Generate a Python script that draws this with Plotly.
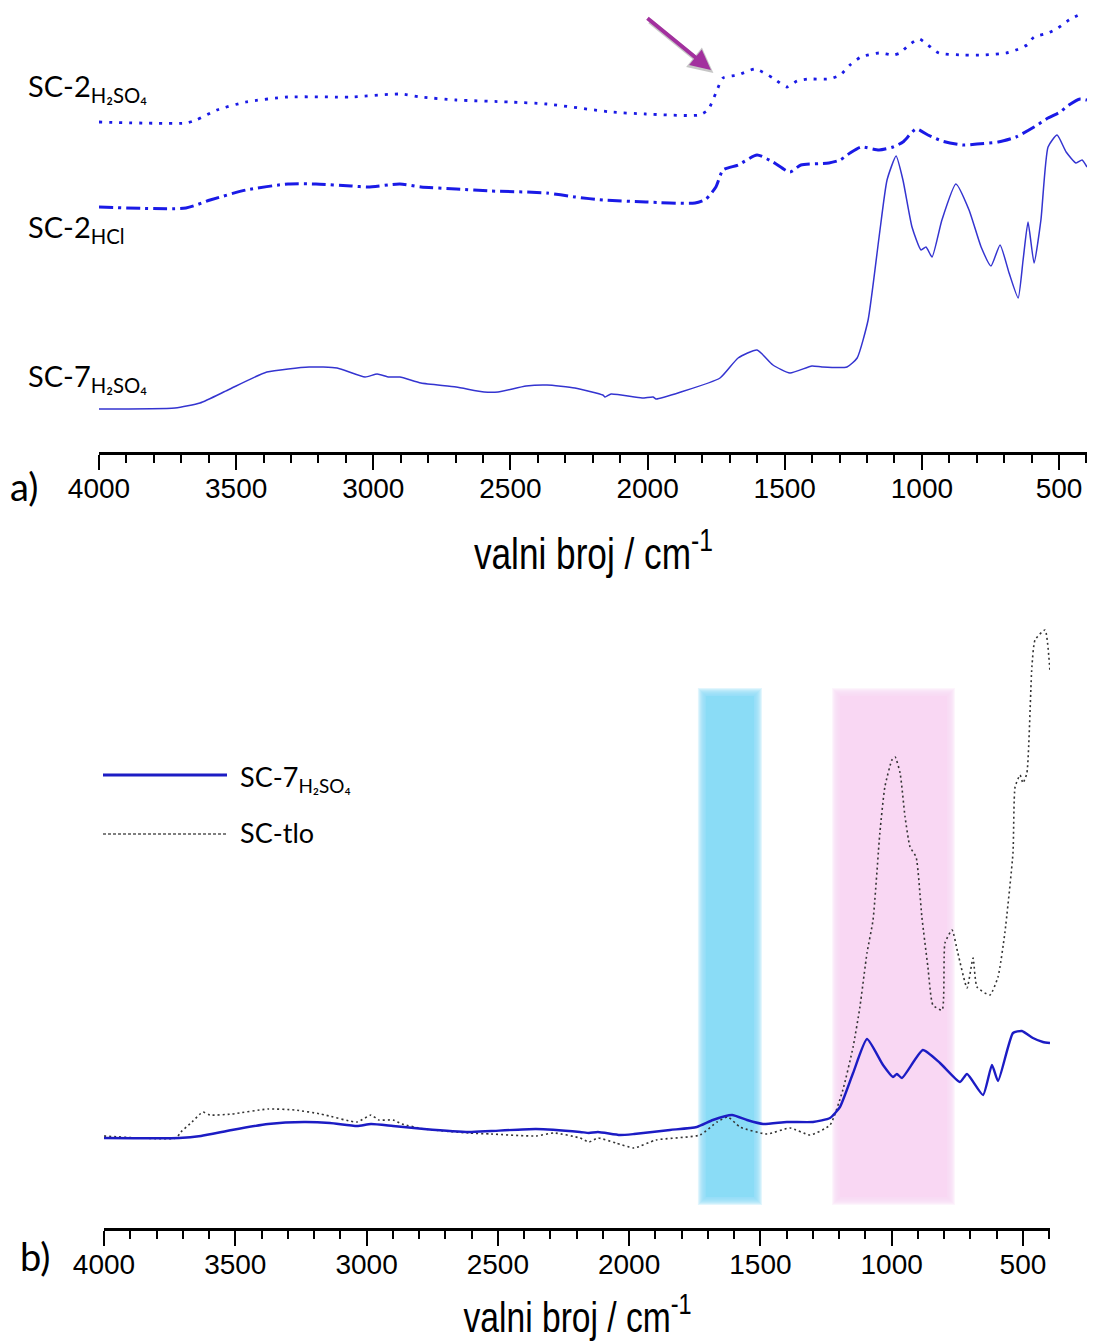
import plotly.graph_objects as go

# ---------------- data ----------------
# panel a) - SC-2 (H2SO4), dotted
WN_SC2_H2SO4 = [4000, 3683, 3646, 3570, 3464, 3311, 3081, 2903, 2826, 2698, 2505, 2367, 2133, 2006,
                1813, 1780, 1751, 1725, 1670, 1608, 1543, 1492, 1455, 1415, 1339, 1298, 1262, 1222,
                1156, 1105, 1080, 1047, 1010, 978, 938, 850, 773, 693, 657, 617, 591, 540, 504, 464, 420]
A_SC2_H2SO4 = [3.30, 3.29, 3.32, 3.42, 3.50, 3.55, 3.55, 3.58, 3.55, 3.52, 3.50, 3.48, 3.40, 3.38,
               3.37, 3.42, 3.59, 3.74, 3.77, 3.83, 3.74, 3.65, 3.71, 3.73, 3.73, 3.77, 3.87, 3.95,
               3.99, 3.97, 3.99, 4.07, 4.13, 4.07, 3.99, 3.97, 3.97, 3.99, 4.02, 4.07, 4.15, 4.19, 4.24, 4.32, 4.38]

# panel a) - SC-2 (HCl), dash-dot
WN_SC2_HCL = [4000, 3683, 3595, 3464, 3311, 3209, 3081, 3019, 2903, 2826, 2698, 2571, 2367, 2265,
              2163, 2006, 1827, 1787, 1751, 1725, 1670, 1601, 1543, 1481, 1441, 1339, 1298, 1262,
              1222, 1156, 1105, 1069, 1021, 978, 927, 850, 799, 722, 657, 591, 540, 496, 464, 423, 398]
A_SC2_HCL = [2.45, 2.44, 2.52, 2.62, 2.68, 2.68, 2.66, 2.65, 2.68, 2.65, 2.63, 2.61, 2.59, 2.55,
             2.52, 2.50, 2.49, 2.53, 2.65, 2.82, 2.87, 2.97, 2.90, 2.80, 2.87, 2.89, 2.92, 2.99,
             3.05, 3.02, 3.05, 3.10, 3.23, 3.17, 3.11, 3.07, 3.08, 3.10, 3.15, 3.25, 3.34, 3.40, 3.47, 3.53, 3.52]

# panel a) - SC-7 (H2SO4), solid
WN_SC7_A = [4000, 3723, 3632, 3530, 3388, 3234, 3132, 3030, 2986, 2943, 2903, 2826, 2698, 2596, 2545,
            2443, 2367, 2265, 2163, 2155, 2133, 2020, 1980, 1969, 1878, 1736, 1670, 1601, 1543, 1481,
            1401, 1364, 1273, 1236, 1196, 1156, 1127, 1094, 1069, 1036, 1003, 985, 963, 927, 876, 828,
            784, 748, 715, 682, 649, 631, 613, 591, 566, 540, 507, 474, 438, 416, 398]
A_SC7_A = [0.43, 0.44, 0.49, 0.62, 0.80, 0.85, 0.84, 0.75, 0.78, 0.75, 0.75, 0.69, 0.65, 0.60, 0.60,
           0.66, 0.67, 0.64, 0.57, 0.55, 0.58, 0.54, 0.55, 0.53, 0.60, 0.74, 0.94, 1.02, 0.87, 0.79,
           0.86, 0.85, 0.85, 0.94, 1.32, 2.15, 2.72, 2.96, 2.72, 2.25, 2.02, 2.05, 1.95, 2.32, 2.68, 2.42,
           2.05, 1.86, 2.07, 1.79, 1.54, 1.92, 2.30, 1.89, 2.32, 3.05, 3.17, 3.00, 2.89, 2.92, 2.85]

# panel b) - SC-7 (H2SO4), solid
WN_SC7_B = [4000, 3714, 3631, 3513, 3375, 3238, 3139, 3036, 2983, 2899, 2781, 2610, 2526, 2355, 2187,
            2153, 2119, 2035, 1981, 1844, 1742, 1681, 1608, 1551, 1490, 1399, 1300, 1235, 1197, 1147,
            1094, 1033, 995, 980, 961, 881, 816, 740, 713, 652, 618, 595, 538, 504, 462, 424, 397]
A_SC7_B = [0.90, 0.90, 0.92, 0.98, 1.04, 1.06, 1.05, 1.02, 1.04, 1.02, 0.99, 0.96, 0.97, 0.99, 0.96,
           0.95, 0.96, 0.93, 0.94, 0.98, 1.01, 1.08, 1.13, 1.08, 1.04, 1.06, 1.06, 1.10, 1.21, 1.55,
           1.89, 1.63, 1.51, 1.54, 1.50, 1.78, 1.65, 1.46, 1.54, 1.33, 1.63, 1.47, 1.95, 1.97, 1.90, 1.86, 1.85]

# panel b) - SC-tlo, dotted
WN_TLO = [4000, 3726, 3707, 3665, 3623, 3596, 3513, 3375, 3273, 3174, 3036, 2983, 2953, 2899, 2865,
          2781, 2610, 2526, 2355, 2286, 2187, 2153, 2119, 2050, 1981, 1898, 1730, 1665, 1624, 1578,
          1475, 1387, 1311, 1235, 1186, 1147, 1121, 1094, 1071, 1045, 1026, 999, 987, 968, 949, 930,
          907, 885, 862, 843, 808, 797, 770, 748, 713, 690, 675, 626, 595, 569, 538, 530, 511, 500,
          485, 466, 454, 416, 397]
A_TLO = [0.92, 0.90, 0.96, 1.06, 1.16, 1.13, 1.14, 1.19, 1.18, 1.14, 1.06, 1.13, 1.08, 1.08, 1.04,
         0.99, 0.95, 0.94, 0.92, 0.95, 0.90, 0.86, 0.90, 0.85, 0.80, 0.88, 0.93, 1.06, 1.11, 1.01,
         0.94, 1.00, 0.93, 1.03, 1.38, 1.81, 2.21, 2.75, 3.08, 3.95, 4.41, 4.68, 4.71, 4.55, 4.11, 3.81,
         3.71, 3.11, 2.61, 2.23, 2.18, 2.85, 2.98, 2.75, 2.40, 2.70, 2.41, 2.33, 2.51, 2.95, 3.75, 4.41,
         4.53, 4.45, 4.55, 5.61, 5.88, 5.98, 5.56]

# highlighted regions in panel b) (wavenumber limits)
BAND_CYAN = [1719, 1513]
BAND_PINK = [1208, 778]

TICK_VALS = [4000, 3500, 3000, 2500, 2000, 1500, 1000, 500]
TICK_TEXT = ["4000", "3500", "3000", "2500", "2000", "1500", "1000", "500"]

LABEL_A = ["SC-2<sub>H₂SO₄</sub>", "SC-2<sub>HCl</sub>", "SC-7<sub>H₂SO₄</sub>"]
LEGEND_B = ["SC-7<sub>H₂SO₄</sub>", "SC-tlo"]
AXIS_TITLE = "valni broj / cm<sup>-1</sup>"

# ---------------- figure ----------------
W, H = 1093, 1342
def fx(p):
    return p / W
def fy(p):
    return 1 - p / H

BLUE = "#1a1ae6"
fig = go.Figure()

fig.add_trace(go.Scatter(x=WN_SC2_H2SO4, y=A_SC2_H2SO4, mode="lines", xaxis="x", yaxis="y",
                         line=dict(color=BLUE, width=2.8, dash="3px,7px", shape="spline", smoothing=0.6)))
fig.add_trace(go.Scatter(x=WN_SC2_HCL, y=A_SC2_HCL, mode="lines", xaxis="x", yaxis="y",
                         line=dict(color=BLUE, width=3, dash="14px,5px,3px,5px", shape="spline", smoothing=0.6)))
fig.add_trace(go.Scatter(x=WN_SC7_A, y=A_SC7_A, mode="lines", xaxis="x", yaxis="y",
                         line=dict(color="#3434d0", width=1.5, shape="spline", smoothing=0.5)))

fig.add_trace(go.Scatter(x=WN_TLO, y=A_TLO, mode="lines", xaxis="x2", yaxis="y2",
                         line=dict(color="#333333", width=1.6, dash="2px,3px", shape="spline", smoothing=0.5)))
fig.add_trace(go.Scatter(x=WN_SC7_B, y=A_SC7_B, mode="lines", xaxis="x2", yaxis="y2",
                         line=dict(color="#1c1cc4", width=2.4, shape="spline", smoothing=0.5)))

shapes = []
PX_WN = 3.8085   # wavenumber units per pixel in panel b
PX_A = 0.01      # absorbance units per pixel in panel b
def band(lims, color):
    hi, lo = lims
    y0, y1 = 0.28, 5.35
    for e in range(-3, 6):
        shapes.append(dict(type="rect", xref="x2", yref="y2", x0=hi + e * PX_WN, x1=lo - e * PX_WN,
                           y0=y0 - e * PX_A, y1=y1 + e * PX_A, fillcolor=color, opacity=0.25,
                           line=dict(width=0), layer="below"))
    e = -3
    shapes.append(dict(type="rect", xref="x2", yref="y2", x0=hi + e * PX_WN, x1=lo - e * PX_WN,
                       y0=y0 - e * PX_A, y1=y1 + e * PX_A, fillcolor=color, opacity=1,
                       line=dict(width=0), layer="below"))
band(BAND_CYAN, "#8adcf6")
band(BAND_PINK, "#f9d7f3")

# legend samples (panel b)
shapes.append(dict(type="line", xref="paper", yref="paper", x0=fx(103), x1=fx(227), y0=fy(775), y1=fy(775),
                   line=dict(color="#1c1cc4", width=3)))
shapes.append(dict(type="line", xref="paper", yref="paper", x0=fx(103), x1=fx(227), y0=fy(834), y1=fy(834),
                   line=dict(color="#555555", width=1.3, dash="3px,2px")))

LABEL_FONT = "Lato, Open Sans, Noto Sans, sans-serif"
TITLE_FONT = "Liberation Sans, Arial, sans-serif"
annotations = []
for txt, yp in zip(LABEL_A, [88, 228, 377]):
    annotations.append(dict(text=txt, xref="paper", yref="paper", x=fx(26), y=fy(yp), xanchor="left",
                            yanchor="middle", showarrow=False, font=dict(family=LABEL_FONT, size=29, color="black")))
for txt, yp in zip(LEGEND_B, [778, 832]):
    annotations.append(dict(text=txt, xref="paper", yref="paper", x=fx(238), y=fy(yp), xanchor="left",
                            yanchor="middle", showarrow=False, font=dict(family=LABEL_FONT, size=27, color="black")))
annotations.append(dict(text="a)", xref="paper", yref="paper", x=fx(8), y=fy(486), xanchor="left", yanchor="middle",
                        showarrow=False, font=dict(family=LABEL_FONT, size=38, color="black")))
annotations.append(dict(text="b)", xref="paper", yref="paper", x=fx(18), y=fy(1256), xanchor="left", yanchor="middle",
                        showarrow=False, font=dict(family=LABEL_FONT, size=38, color="black")))
annotations.append(dict(text=AXIS_TITLE, xref="x domain", yref="paper", x=0.5, y=fy(551), xanchor="center",
                        yanchor="middle", showarrow=False, font=dict(family=TITLE_FONT, size=44, color="black")))
annotations.append(dict(text=AXIS_TITLE, xref="x2 domain", yref="paper", x=0.5, y=fy(1314), xanchor="center",
                        yanchor="middle", showarrow=False, font=dict(family=TITLE_FONT, size=42, color="black")))
# arrow (shadow + arrow)
annotations.append(dict(text="", x=1760, y=3.79, xref="x", yref="y", ax=-65, ay=-53, showarrow=True,
                        arrowhead=2, arrowsize=1, arrowwidth=5, arrowcolor="rgba(0,0,0,0.22)", standoff=0))
annotations.append(dict(text="", x=1769, y=3.82, xref="x", yref="y", ax=-65, ay=-53, showarrow=True,
                        arrowhead=2, arrowsize=1, arrowwidth=4, arrowcolor="#a2309e", standoff=0))

def xaxis_style(domain, anchor, rng):
    return dict(domain=domain, anchor=anchor, range=rng, autorange=False, automargin=False,
                showgrid=False, zeroline=False,
                showline=True, linecolor="black", linewidth=2.5, ticks="outside", ticklen=15, tickwidth=2,
                tickcolor="black", tickvals=TICK_VALS, ticktext=TICK_TEXT, ticklabelstandoff=-5,
                tickfont=dict(family="Liberation Sans, Arial, sans-serif", size=28, color="black"),
                minor=dict(dtick=100, tick0=0, ticks="outside", ticklen=8, tickwidth=2, tickcolor="black", showgrid=False))

fig.update_layout(
    width=W, height=H, margin=dict(l=0, r=0, t=0, b=0, autoexpand=False),
    paper_bgcolor="white", plot_bgcolor="white", showlegend=False,
    xaxis=xaxis_style([fx(99), fx(1087)], "y", [4000, 398]),
    yaxis=dict(domain=[fy(452), 1.0], range=[0, 4.52], visible=False, anchor="x"),
    xaxis2=xaxis_style([fx(104), fx(1050)], "y2", [4000, 397]),
    yaxis2=dict(domain=[fy(1228), fy(600)], range=[0, 6.28], visible=False, anchor="x2"),
    shapes=shapes, annotations=annotations,
)

POST = """
document.body.style.margin = '0';
document.documentElement.style.overflow = 'hidden';
var gd = document.getElementById('{plot_id}');
gd.querySelectorAll('text').forEach(function(t){
  if ((t.textContent || '').indexOf('valni') === 0) {
    t.style.transformBox = 'fill-box';
    t.style.transformOrigin = 'center';
    t.style.transform = 'scaleX(0.8)';
  }
});
"""
fig.write_html("out.html", post_script=POST, config={"displayModeBar": False})
